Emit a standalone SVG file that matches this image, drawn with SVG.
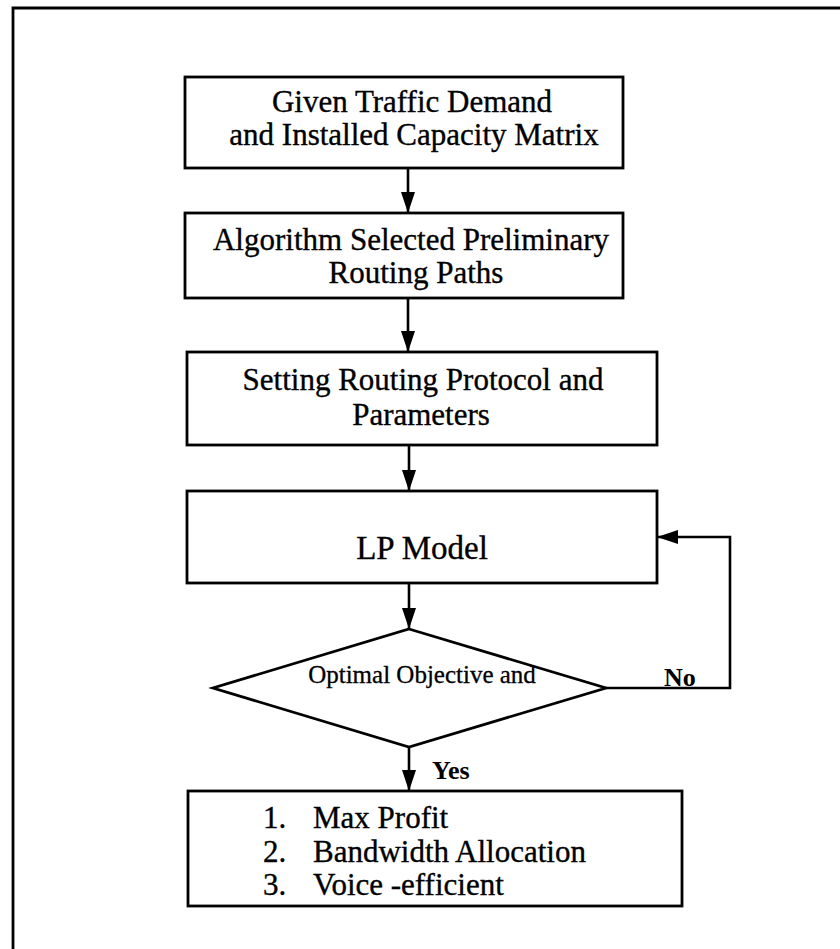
<svg xmlns="http://www.w3.org/2000/svg" width="840" height="949" viewBox="0 0 840 949">
  <style>
    .box { fill: #ffffff; stroke: #000000; stroke-width: 2.8; }
    .frame { fill: none; stroke: #000000; stroke-width: 2.8; }
    .link { fill: none; stroke: #000000; stroke-width: 2.6; }
    .t { font-family: "Liberation Serif", "Times New Roman", serif; fill: #000000; stroke: #000000; stroke-width: 0.35; text-anchor: middle; font-size: 31px; }
    .big { font-size: 33px; }
    .small { font-size: 25px; stroke-width: 0.3; }
    .lbl { font-family: "Liberation Serif", "Times New Roman", serif; fill: #000000; font-size: 26px; font-weight: bold; }
    .item { font-family: "Liberation Serif", "Times New Roman", serif; fill: #000000; stroke: #000000; stroke-width: 0.35; font-size: 31px; }
  </style>
  <defs>
    <marker id="arrow" markerUnits="userSpaceOnUse" markerWidth="22" markerHeight="14" refX="21" refY="7" orient="auto">
      <path d="M0,0 L21,7 L0,14 Z" fill="#000000"/>
    </marker>
  </defs>

  <rect width="840" height="949" fill="#ffffff"/>

  <!-- page frame (open on the right and bottom) -->
  <path class="frame" d="M13,949 V8 H840"/>

  <g id="input">
    <rect class="box" x="185" y="77" width="438" height="91"/>
    <text class="t" x="412" y="112">Given Traffic Demand</text>
    <text class="t" x="414" y="145">and Installed Capacity Matrix</text>
  </g>

  <g id="paths">
    <rect class="box" x="185" y="213" width="438" height="85"/>
    <text class="t" x="411" y="250">Algorithm Selected Preliminary</text>
    <text class="t" x="416" y="283">Routing Paths</text>
  </g>

  <g id="protocol">
    <rect class="box" x="187" y="352" width="470" height="93"/>
    <text class="t" x="423" y="390">Setting Routing Protocol and</text>
    <text class="t" x="421" y="425">Parameters</text>
  </g>

  <g id="lp">
    <rect class="box" x="187" y="491" width="470" height="92"/>
    <text class="t big" x="422" y="559">LP Model</text>
  </g>

  <g id="decision">
    <polygon class="box" points="409,629 606,688 409,747 213,688"/>
    <text class="t small" x="422" y="683">Optimal Objective and</text>
  </g>

  <g id="result">
    <rect class="box" x="188" y="791" width="494" height="115"/>
    <text class="item" x="263" y="828">1.</text>
    <text class="item" x="313" y="828">Max Profit</text>
    <text class="item" x="263" y="862">2.</text>
    <text class="item" x="313" y="862">Bandwidth Allocation</text>
    <text class="item" x="263" y="895">3.</text>
    <text class="item" x="313" y="895">Voice -efficient</text>
  </g>

  <g id="connectors">
    <path class="link" d="M408,168 V213" marker-end="url(#arrow)"/>
    <path class="link" d="M408,298 V352" marker-end="url(#arrow)"/>
    <path class="link" d="M409,445 V491" marker-end="url(#arrow)"/>
    <path class="link" d="M409,583 V629" marker-end="url(#arrow)"/>
    <path class="link" d="M409,747 V791" marker-end="url(#arrow)"/>
    <path class="link" d="M606,688 H730 V537 H657" marker-end="url(#arrow)"/>
    <text class="lbl" x="664" y="686">No</text>
    <text class="lbl" x="432" y="779">Yes</text>
  </g>
</svg>
